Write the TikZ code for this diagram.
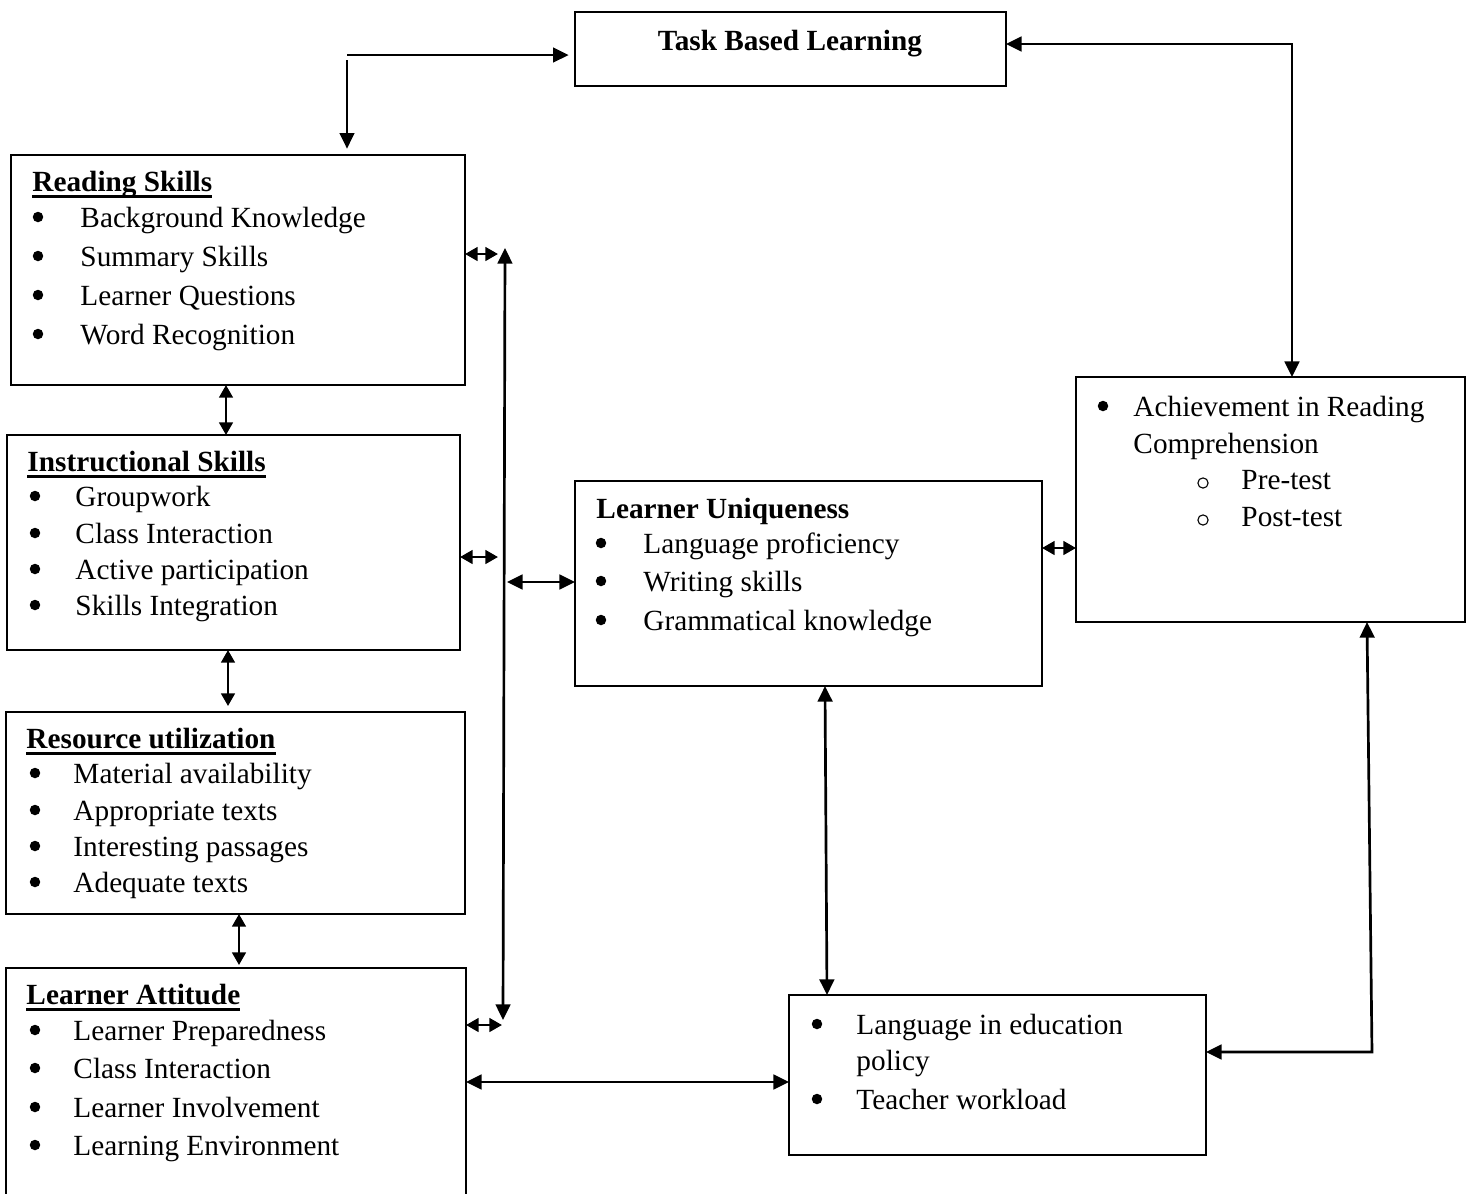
\documentclass[tikz,border=0pt]{standalone}
\usepackage{fontspec}
\setmainfont{Liberation Serif}
\usetikzlibrary{arrows.meta,calc,fit}
\newcommand\myul[1]{\setbox0\hbox{#1}\rlap{\rule[-2.7pt]{\wd0}{0.95pt}}\box0}
\tikzset{
  box/.style={draw, line width=0.55pt, inner sep=0pt, outer sep=0pt},
  tip/.tip={Triangle[length=6.4pt,width=6pt]},
  stip/.tip={Triangle[length=5.2pt,width=5.6pt]},
  conn/.style={line width=1.1pt, {tip}-{tip}},
  sconn/.style={line width=1.1pt, {stip}-{stip}},
  one/.style={line width=1.1pt, -{tip}},
  txt/.style={anchor=base west, inner sep=0pt, font=\fontsize{12}{14}\selectfont},
  bul/.style={circle, fill, inner sep=0pt, minimum size=4.3pt},
  obul/.style={circle, draw, line width=0.45pt, inner sep=0pt, minimum size=4.2pt},
}
\begin{document}
\begin{tikzpicture}[x=0.41pt,y=-0.41pt]
\useasboundingbox (0,0) rectangle (1468,1193);

% boxes
\node[box, fit={(575,12) (1006,86)}] (TBL) {};
\node[box, fit={(11,155) (465,385)}] (RS) {};
\node[box, fit={(7,435) (460,650)}] (IS) {};
\node[box, fit={(6,712) (465,914)}] (RU) {};
\node[box, fit={(6,968) (466,1198)}] (LA) {};
\node[box, fit={(575,481) (1042,686)}] (LU) {};
\node[box, fit={(1076,377) (1465,622)}] (ACH) {};
\node[box, fit={(789,995) (1206,1155)}] (LP) {};

% texts
\node[txt, anchor=base] (tbltxt) at (790,50) {\textbf{Task Based Learning}};

\node[txt] (rst0) at (32,191) {\myul{\textbf{Reading Skills}}};
\foreach \y/\t [count=\i] in {227/Background Knowledge, 266/Summary Skills, 305/Learner Questions, 344/Word Recognition}{
  \node[bul] (rsb\i) at (38,\y-10) {};
  \node[txt] (rst\i) at (80,\y) {\t};
}

\node[txt] (ist0) at (27,471) {\myul{\textbf{Instructional Skills}}};
\foreach \y/\t [count=\i] in {506/Groupwork, 543/Class Interaction, 579/Active participation, 615/Skills Integration}{
  \node[bul] (isb\i) at (35,\y-10) {};
  \node[txt] (ist\i) at (75,\y) {\t};
}

\node[txt] (rut0) at (26,748) {\myul{\textbf{Resource utilization}}};
\foreach \y/\t [count=\i] in {783/Material availability, 820/Appropriate texts, 856/Interesting passages, 892/Adequate texts}{
  \node[bul] (rub\i) at (35,\y-10) {};
  \node[txt] (rut\i) at (73,\y) {\t};
}

\node[txt] (lat0) at (26,1004) {\myul{\textbf{Learner Attitude}}};
\foreach \y/\t [count=\i] in {1040/Learner Preparedness, 1078/Class Interaction, 1117/Learner Involvement, 1155/Learning Environment}{
  \node[bul] (lab\i) at (35,\y-10) {};
  \node[txt] (lat\i) at (73,\y) {\t};
}

\node[txt] (lut0) at (596,518) {\textbf{Learner Uniqueness}};
\foreach \y/\t [count=\i] in {553/Language proficiency, 591/Writing skills, 630/Grammatical knowledge}{
  \node[bul] (lub\i) at (601,\y-10) {};
  \node[txt] (lut\i) at (643,\y) {\t};
}

\node[bul] (achb1) at (1103,406) {};
\node[txt] (acht1) at (1133,416) {Achievement in Reading};
\node[txt] (acht2) at (1133,453) {Comprehension};
\node[obul] (acho1) at (1203,483) {};
\node[txt] (acht3) at (1241,489) {Pre-test};
\node[obul] (acho2) at (1203,520) {};
\node[txt] (acht4) at (1241,526) {Post-test};

\node[bul] (lpb1) at (817,1024) {};
\node[txt] (lpt1) at (856,1034) {Language in education};
\node[txt] (lpt2) at (856,1070) {policy};
\node[bul] (lpb2) at (817,1099) {};
\node[txt] (lpt3) at (856,1109) {Teacher workload};

% connectors
\coordinate (c1) at (347,55);
\draw[one, shorten >=2.6pt] (c1) -- (c1 -| TBL.west);
\draw[one, shorten >=2.6pt] ($(c1)+(0,5)$) -- (c1 |- RS.north);

\coordinate (c2) at (1292,44);
\draw[conn] (c2 -| TBL.east) -- (c2) -- (c2 |- ACH.north);

\coordinate (vt) at (505,248);
\coordinate (vb) at (503,1020);
\draw[conn] (vt) -- (vb);

\coordinate (a1) at (498,254);
\draw[sconn] (RS.east |- a1) -- (a1);
\coordinate (a2) at (498,557);
\draw[sconn] (IS.east |- a2) -- (a2);
\coordinate (a3) at (507,582);
\draw[conn] (a3) -- (LU.west |- a3);
\coordinate (a4) at (502,1025);
\draw[sconn] (LA.east |- a4) -- (a4);

\coordinate (k1) at (226,0);
\draw[sconn] (RS.south -| k1) -- (IS.north -| k1);
\coordinate (k2) at (228,0);
\draw[sconn] (IS.south -| k2) -- ($(RU.north -| k2)+(0,-6)$);
\coordinate (k3) at (239,0);
\draw[sconn] (RU.south -| k3) -- ($(LA.north -| k3)+(0,-3)$);

\coordinate (k4) at (0,548);
\draw[sconn] (LU.east |- k4) -- (ACH.west |- k4);

\coordinate (k5) at (825,0);
\coordinate (k6) at (827,0);
\draw[conn] (LU.south -| k5) -- (LP.north -| k6);

\coordinate (k7) at (0,1082);
\draw[conn] (LA.east |- k7) -- (LP.west |- k7);

\coordinate (c3) at (1372,1052);
\coordinate (k8) at (1367,0);
\draw[conn] (LP.east |- c3) -- (c3) -- (ACH.south -| k8);
\end{tikzpicture}
\end{document}
